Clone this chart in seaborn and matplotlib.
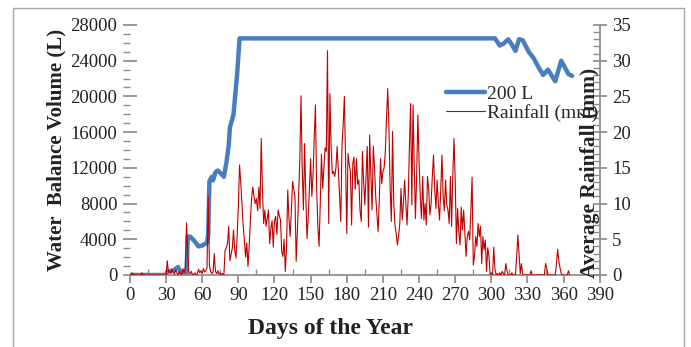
import numpy as np
import seaborn as sns
import matplotlib.pyplot as plt
from matplotlib.patches import Rectangle
from matplotlib.ticker import MultipleLocator

# Tank water balance (200 L tank), breakpoints
tank_days = [0, 30, 31, 36, 40, 42, 47, 48, 50, 53,
             57, 60, 64, 65, 66, 68, 69, 71, 73, 76,
             78, 80, 82, 83, 85, 86, 88, 89, 91, 303,
             307, 310, 314, 317, 320, 323, 326, 331, 335, 339,
             343, 347, 353, 358, 362, 364, 367]
tank_vol = [0, 0, 400, 500, 900, 300, 200, 4300, 4300, 3900,
            3200, 3300, 3600, 4500, 10500, 11000, 10600, 11500, 11700, 11300,
            11000, 12500, 14500, 16500, 17500, 18000, 21000, 22500, 26500, 26500,
            25700, 25900, 26400, 25800, 25100, 26400, 26300, 25000, 24300, 23300,
            22400, 23000, 21700, 24000, 23000, 22500, 22300]

# Daily average rainfall (mm), day 0..365
rainfall = [
    0, 0, 0.3, 0, 0, 0, 0, 0, 0, 0,
    0.3, 0, 0, 0, 0, 0, 0, 0, 0, 0,
    0, 0, 0, 0, 0, 0, 0, 0, 0, 0,
    0, 2.0, 0.3, 0.6, 0.2, 0.8, 0.4, 0.1, 0.7, 0.3,
    0.0, 0.5, 0.2, 0.0, 0.9, 0.3, 1.0, 7.3, 3.0, 0.3,
    0.2, 0.5, 0.0, 0.1, 0.3, 0.0, 0.2, 0.8, 0.3, 0.6,
    0.2, 0.9, 0.4, 0.6, 1.0, 11.0, 1.3, 0.5, 0.2, 0.4,
    3.0, 0.5, 0.2, 0.6, 0.1, 0.3, 0.0, 0.2, 0.0, 3.5,
    3.8, 4.4, 6.8, 2.0, 2.9, 3.8, 6.3, 3.5, 2.4, 5.4,
    9.5, 15.4, 13.0, 10.0, 7.0, 4.9, 2.5, 4.5, 1.2, 4.0,
    7.6, 10.7, 12.3, 11.0, 10.0, 10.7, 9.0, 12.3, 9.3, 19.1,
    12.0, 7.2, 9.1, 6.8, 8.0, 9.1, 4.4, 6.5, 7.6, 3.9,
    7.6, 8.2, 5.7, 9.1, 8.3, 7.7, 3.3, 2.6, 5.0, 0.5,
    4.0, 11.9, 8.0, 5.4, 9.0, 13.1, 12.0, 11.0, 1.9, 6.0,
    11.1, 16.0, 25.1, 15.0, 9.1, 18.4, 11.0, 5.1, 8.0, 12.0,
    16.3, 11.0, 14.0, 19.4, 23.8, 12.0, 6.8, 4.0, 10.0, 16.9,
    12.1, 15.0, 17.8, 17.3, 31.4, 7.2, 25.4, 18.0, 14.2, 14.5,
    13.8, 15.0, 18.0, 14.7, 11.0, 7.5, 18.0, 21.0, 25.0, 16.0,
    5.8, 17.0, 15.5, 14.6, 7.0, 15.6, 16.5, 12.0, 16.3, 12.7,
    13.3, 9.0, 7.5, 17.3, 13.0, 9.8, 14.0, 18.0, 6.7, 19.6,
    14.0, 9.1, 18.0, 15.2, 11.0, 8.6, 6.1, 10.5, 16.3, 12.8,
    14.5, 15.0, 17.3, 22.0, 26.1, 20.7, 12.0, 7.5, 20.1, 10.0,
    7.0, 5.8, 4.2, 5.5, 7.2, 12.1, 7.7, 10.0, 13.3, 10.0,
    7.0, 10.9, 18.0, 24.0, 9.8, 23.8, 15.0, 7.9, 14.0, 22.4,
    16.0, 11.0, 7.9, 13.8, 7.7, 10.0, 7.0, 13.8, 12.0, 8.4,
    10.0, 13.8, 16.8, 12.0, 9.3, 13.3, 10.0, 7.7, 12.0, 16.8,
    11.0, 9.0, 13.3, 9.8, 9.1, 7.2, 13.8, 6.8, 14.0, 19.1,
    13.3, 4.4, 9.3, 6.0, 4.2, 9.5, 6.3, 9.1, 6.0, 2.6,
    5.4, 6.1, 4.9, 9.0, 13.7, 1.4, 2.6, 5.4, 4.0, 7.2,
    5.4, 6.8, 1.6, 5.4, 3.5, 4.9, 0.5, 3.8, 2.6, 0.1,
    0.3, 0.0, 3.9, 0.8, 0.0, 0.2, 0.0, 0.3, 0.0, 0.5,
    0.2, 0.0, 1.6, 0.6, 0.0, 0.0, 0.0, 0.3, 0.0, 0.0,
    0.0, 2.5, 5.6, 3.0, 0.2, 1.6, 0.0, 0.0, 0.0, 0.0,
    0.0, 0.0, 0.0, 0.6, 0.0, 0.0, 0.0, 0.0, 0.0, 0.0,
    0.0, 0.0, 0.0, 0.0, 0.0, 1.6, 1.0, 0.0, 0.0, 0.0,
    0.0, 0.0, 0.0, 0.0, 1.5, 3.6, 2.0, 1.0, 0.2, 0.0,
    0.0, 0.0, 0.0, 0.0, 0.6, 0.0,
]
rain_days = list(range(len(rainfall)))

x_ticks = list(range(0, 391, 30))
vol_ticks = list(range(0, 28001, 4000))
rain_ticks = list(range(0, 36, 5))

sns.set_theme(style="white")
plt.rcParams["font.family"] = ["Liberation Serif", "DejaVu Serif"]

grey = "#8c8c8c"
txt = "#222222"

fig = plt.figure(figsize=(6.91, 3.47), dpi=100)
ax = fig.add_axes([0.188, 0.2075, 0.680, 0.7205])
ax2 = ax.twinx()

sns.lineplot(x=tank_days, y=tank_vol, ax=ax, color="#4a7dbc", lw=3.2,
             label="200 L", legend=False)
sns.lineplot(x=rain_days, y=rainfall, ax=ax2, color="#c00000", lw=0.8,
             label="Rainfall (mm)", legend=False)

ax.set_xlim(0, 390)
ax.set_ylim(0, 28000)
ax2.set_ylim(0, 35)
ax.set_xticks(x_ticks)
ax.set_yticks(vol_ticks)
ax2.set_yticks(rain_ticks)
ax.xaxis.set_minor_locator(MultipleLocator(15))
ax.yaxis.set_minor_locator(MultipleLocator(1000))
ax2.yaxis.set_minor_locator(MultipleLocator(1))

for a in (ax, ax2):
    for s in a.spines.values():
        s.set_visible(False)
ax.spines["bottom"].set_visible(True)
ax.spines["bottom"].set_color(grey)
ax2.spines["right"].set_visible(True)
ax2.spines["right"].set_color(grey)

ax.tick_params(axis="x", which="major", direction="out", length=6, color=grey,
               labelsize=13.5, labelcolor=txt, pad=3, bottom=True)
ax.tick_params(axis="x", which="minor", direction="in", length=4, color=grey, bottom=True)
ax.tick_params(axis="y", which="major", direction="inout", length=10, color=grey,
               labelsize=13.5, labelcolor=txt, pad=4, left=True)
ax.tick_params(axis="y", which="minor", direction="out", length=5, color=grey, left=True)
ax2.tick_params(axis="y", which="major", direction="inout", length=10, color=grey,
                labelsize=13.5, labelcolor=txt, pad=4, right=True)
ax2.tick_params(axis="y", which="minor", direction="in", length=5, color=grey, right=True)

# the chart overlaps the right axis title with the legend, kept as in the source
ax.set_xlabel("Days of the Year", fontsize=17, fontweight="bold", color=txt)
ax.xaxis.set_label_coords(0.426, -0.172)
ax.set_ylabel("Water  Balance Volume (L)", fontsize=15, fontweight="bold", color=txt)
ax.yaxis.set_label_coords(-0.135, 0.5)
ax2.set_ylabel("Average Rainfall (mm)", fontsize=15.5, fontweight="bold", color=txt,
               rotation=90)
ax2.yaxis.set_label_coords(0.958, 0.41)

h1, l1 = ax.get_legend_handles_labels()
h2, l2 = ax2.get_legend_handles_labels()
ax2.legend(h1 + h2, l1 + l2, loc="upper left", bbox_to_anchor=(0.672, 0.76),
           frameon=False, fontsize=14, handlelength=2.0, handletextpad=0.1,
           labelspacing=0.05, borderpad=0, borderaxespad=0)

fig.patches.append(Rectangle((0.019, -0.05), 0.971, 1.027, transform=fig.transFigure,
                             fill=False, edgecolor="#a6a6a6", lw=1.0))

fig.savefig("out.png", dpi=100)
